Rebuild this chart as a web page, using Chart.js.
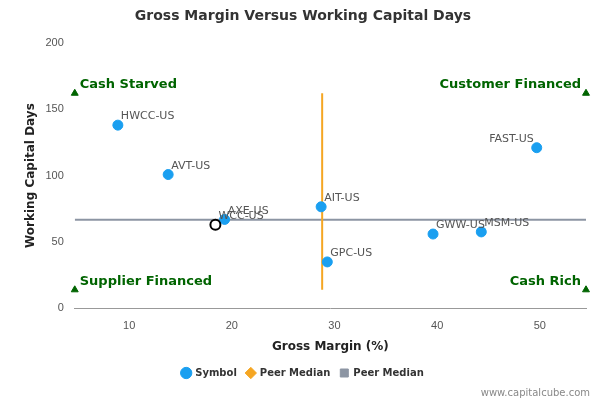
<!DOCTYPE html>
<html><head><meta charset="utf-8">
<script src="https://cdn.jsdelivr.net/npm/chart.js@4"></script>
<style>body{margin:0;background:#fff}#wrap{width:600px;height:400px;position:relative}</style>
</head><body><div id="wrap"><canvas id="c"></canvas></div>
<script>
const symbols = ['HWCC-US','AVT-US','AXE-US','AIT-US','GPC-US','GWW-US','MSM-US','FAST-US'];
const grossMargin = [8.9,13.8,19.3,28.7,29.3,39.6,44.3,49.7];
const wcDays = [138,100.8,67,76.5,35,56,57.6,121];
const focusSymbol = 'WCC-US';
const focusPoint = {x:18.4, y:63};
const medianX = 28.8, medianY = 66.7;
const xMin = 4.7, xMax = 54.5;
const quadrants = [
  {label:'Cash Starved', x:xMin, y:162, align:'left'},
  {label:'Customer Financed', x:xMax, y:162, align:'right'},
  {label:'Supplier Financed', x:xMin, y:14, align:'left'},
  {label:'Cash Rich', x:xMax, y:14, align:'right'}
];

const labelPlugin = {
  id:'labels',
  afterDatasetsDraw(chart){
    const ctx = chart.ctx, xs = chart.scales.x, ys = chart.scales.y;
    ctx.save();
    ctx.font = '11px "DejaVu Sans"';
    ctx.fillStyle = '#555';
    ctx.textBaseline = 'bottom';
    symbols.forEach((s,i)=>{
      const px = xs.getPixelForValue(grossMargin[i]), py = ys.getPixelForValue(wcDays[i]);
      ctx.textAlign = s==='FAST-US' ? 'right' : 'left';
      const dx = s==='FAST-US' ? -3 : 3;
      ctx.fillText(s, px+dx, py-3);
    });
    ctx.textAlign='left';
    ctx.fillText(focusSymbol, xs.getPixelForValue(focusPoint.x)+3, ys.getPixelForValue(focusPoint.y)-3);
    ctx.font = 'bold 13px "DejaVu Sans"';
    ctx.fillStyle = '#006400';
    quadrants.forEach(q=>{
      ctx.textAlign = q.align;
      const px = xs.getPixelForValue(q.x) + (q.align==='left'?5:-5);
      ctx.fillText(q.label, px, ys.getPixelForValue(q.y)-2);
    });
    ctx.font = '10px "DejaVu Sans"';
    ctx.fillStyle = '#888';
    ctx.textAlign='right';
    ctx.fillText('www.capitalcube.com', 590, 398);
    ctx.restore();
  }
};

new Chart(document.getElementById('c'), {
  type:'scatter',
  data:{datasets:[
    {label:'Symbol', data:grossMargin.map((x,i)=>({x, y:wcDays[i]})), backgroundColor:'#1a9ff0', borderColor:'#1a9ff0', pointRadius:5, pointHoverRadius:5, order:1},
    {label:'Peer Median', data:[{x:medianX,y:14},{x:medianX,y:162}], showLine:true, borderColor:'#f5a623', backgroundColor:'#f5a623', borderWidth:2, pointRadius:0, pointStyle:'rectRot', order:3},
    {label:'Peer Median', data:[{x:xMin,y:medianY},{x:xMax,y:medianY}], showLine:true, borderColor:'#8c95a3', backgroundColor:'#8c95a3', borderWidth:2, pointRadius:0, pointStyle:'rect', order:3},
    {label:'focus', data:[focusPoint], backgroundColor:'#fff', borderColor:'#000', borderWidth:2, pointRadius:5, order:0},
    {label:'quad', data:quadrants.map(q=>({x:q.x,y:q.y})), pointStyle:'triangle', backgroundColor:'#006400', borderColor:'#006400', pointRadius:4, order:0, clip:false}
  ]},
  options:{
    responsive:true, maintainAspectRatio:false, animation:false,
    layout:{padding:{left:20,right:14,top:0,bottom:12}},
    plugins:{
      title:{display:true, text:'Gross Margin Versus Working Capital Days', color:'#333', font:{size:14,weight:'bold',family:'"DejaVu Sans"'}, padding:{top:8,bottom:18}},
      legend:{position:'bottom', labels:{filter:i=>i.datasetIndex<3, usePointStyle:true, boxWidth:8, boxHeight:8, color:'#333', font:{size:10,weight:'bold',family:'"DejaVu Sans"'},
        generateLabels(chart){
          const cols=['#1a9ff0','#f5a623','#8c95a3'], st=['circle','rectRot','rect'];
          return [0,1,2].map(i=>({text:chart.data.datasets[i].label, fillStyle:cols[i], strokeStyle:cols[i], pointStyle:st[i], datasetIndex:i, fontColor:'#333', lineWidth:1}));
        }}},
      tooltip:{enabled:false}
    },
    scales:{
      x:{min:xMin, max:xMax, grid:{display:false}, border:{color:'#999'}, ticks:{stepSize:10, color:'#555', font:{size:11}, callback:v=>v%10===0?v:''},
        title:{display:true, text:'Gross Margin (%)', color:'#222', font:{size:12,weight:'bold',family:'"DejaVu Sans"'}}},
      y:{min:0, max:200, grid:{display:false}, border:{display:false}, ticks:{stepSize:50, color:'#555', font:{size:11}},
        title:{display:true, text:'Working Capital Days', color:'#222', font:{size:12,weight:'bold',family:'"DejaVu Sans"'}}}
    }
  },
  plugins:[labelPlugin]
});
</script></body></html>
